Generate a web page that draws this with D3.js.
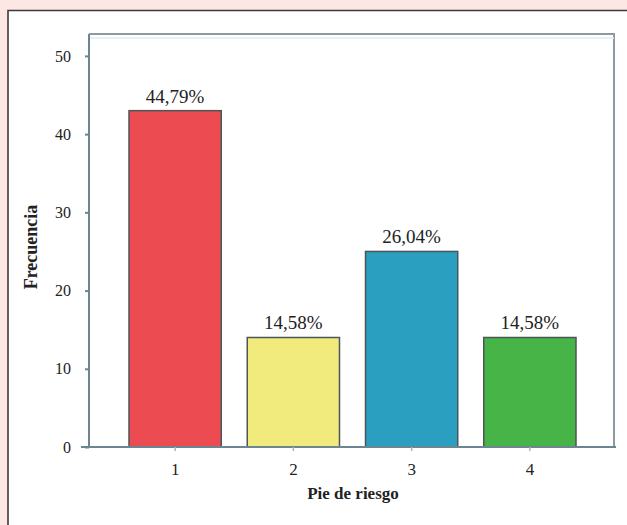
<!DOCTYPE html>
<html>
<head>
<meta charset="utf-8">
<script src="https://cdn.jsdelivr.net/npm/d3@7"></script>
<style>
  html, body { margin: 0; padding: 0; background: #fce7e4; }
  svg { display: block; }
  svg text { font-family: "Liberation Serif", "DejaVu Serif", serif; fill: #222; }
</style>
</head>
<body>
<svg id="chart" width="627" height="525"></svg>
<script>
// Frequency of each "pie de riesgo" category (n = 96)
const categories = ["1", "2", "3", "4"];
const frequencies = [43, 14, 25, 14];
const percentLabels = ["44,79%", "14,58%", "26,04%", "14,58%"];
const barColors = ["#ec4c51", "#f1ea7c", "#2a9fc0", "#46b447"];
const yTicks = [0, 10, 20, 30, 40, 50];

const svg = d3.select("#chart");
const W = 627, H = 525;
const font = "'Liberation Serif', 'DejaVu Serif', serif";

// White panel with a dark left/top border
svg.append("rect").attr("x", 8).attr("y", 10.5).attr("width", W).attr("height", H)
  .attr("fill", "#ffffff");
svg.append("path").attr("d", `M8,${H} V10.5 H${W}`)
  .attr("fill", "none").attr("stroke", "#3e3a3a").attr("stroke-width", 1.6);

// Plot frame
const frame = { left: 89, right: 614, top: 34, bottom: 447 };

const y = d3.scaleLinear()
  .domain([0, 52.8])
  .range([frame.bottom, frame.top]);

const x = d3.scaleBand()
  .domain(categories)
  .range([116, 589])
  .paddingInner(0.22)
  .paddingOuter(0.11);

const axisColor = "#6d8591";

// Frame lines (top and right)
svg.append("path")
  .attr("d", `M${frame.left},${frame.top} H${frame.right} V${frame.bottom}`)
  .attr("fill", "none").attr("stroke", "#8a9ba3").attr("stroke-width", 2);
svg.append("line")
  .attr("x1", frame.left).attr("x2", frame.right)
  .attr("y1", frame.top + 4).attr("y2", frame.top + 4)
  .attr("stroke", "#e4ecef").attr("stroke-width", 1.5);

// Bars
svg.append("g").selectAll("rect")
  .data(frequencies)
  .join("rect")
  .attr("x", (d, i) => x(categories[i]))
  .attr("y", d => y(d))
  .attr("width", x.bandwidth())
  .attr("height", d => y(0) - y(d))
  .attr("fill", (d, i) => barColors[i])
  .attr("stroke", "#4d5558")
  .attr("stroke-width", 1.5);

// Percentage labels above bars
svg.append("g").selectAll("text")
  .data(frequencies)
  .join("text")
  .attr("x", (d, i) => x(categories[i]) + x.bandwidth() / 2)
  .attr("y", d => y(d) - 8)
  .attr("text-anchor", "middle")
  .style("font-family", font)
  .style("font-size", "19px")
  .text((d, i) => percentLabels[i]);

// Y axis
const yAxis = d3.axisLeft(y).tickValues(yTicks).tickSize(4).tickPadding(14);
const gy = svg.append("g")
  .attr("transform", `translate(${frame.left},0)`)
  .call(yAxis);
gy.attr("font-family", null).attr("font-size", null);
gy.select(".domain").attr("stroke", axisColor).attr("stroke-width", 2)
  .attr("d", `M0,${frame.bottom}V${frame.top}`);
gy.selectAll(".tick line").attr("stroke", axisColor).attr("stroke-width", 2);
gy.selectAll(".tick text")
  .style("font-family", font).style("font-size", "16px").attr("fill", "#222");

// X axis
const xAxis = d3.axisBottom(x).tickSize(4).tickPadding(12);
const gx = svg.append("g")
  .attr("transform", `translate(0,${frame.bottom})`)
  .call(xAxis);
gx.attr("font-family", null).attr("font-size", null);
gx.select(".domain").attr("stroke", axisColor).attr("stroke-width", 2)
  .attr("d", `M${frame.left - 8},0H${frame.right + 2}`);
gx.selectAll(".tick line").attr("stroke", "#a9b5ba").attr("stroke-width", 1.5);
gx.selectAll(".tick text")
  .style("font-family", font).style("font-size", "17px").attr("fill", "#222");

// Axis titles
svg.append("text")
  .attr("x", 353).attr("y", 499)
  .attr("text-anchor", "middle")
  .style("font-family", font).style("font-size", "17px").style("font-weight", "bold")
  .text("Pie de riesgo");

svg.append("text")
  .attr("transform", `translate(37,247) rotate(-90)`)
  .attr("text-anchor", "middle")
  .style("font-family", font).style("font-size", "18px").style("font-weight", "bold")
  .text("Frecuencia");
</script>
</body>
</html>
